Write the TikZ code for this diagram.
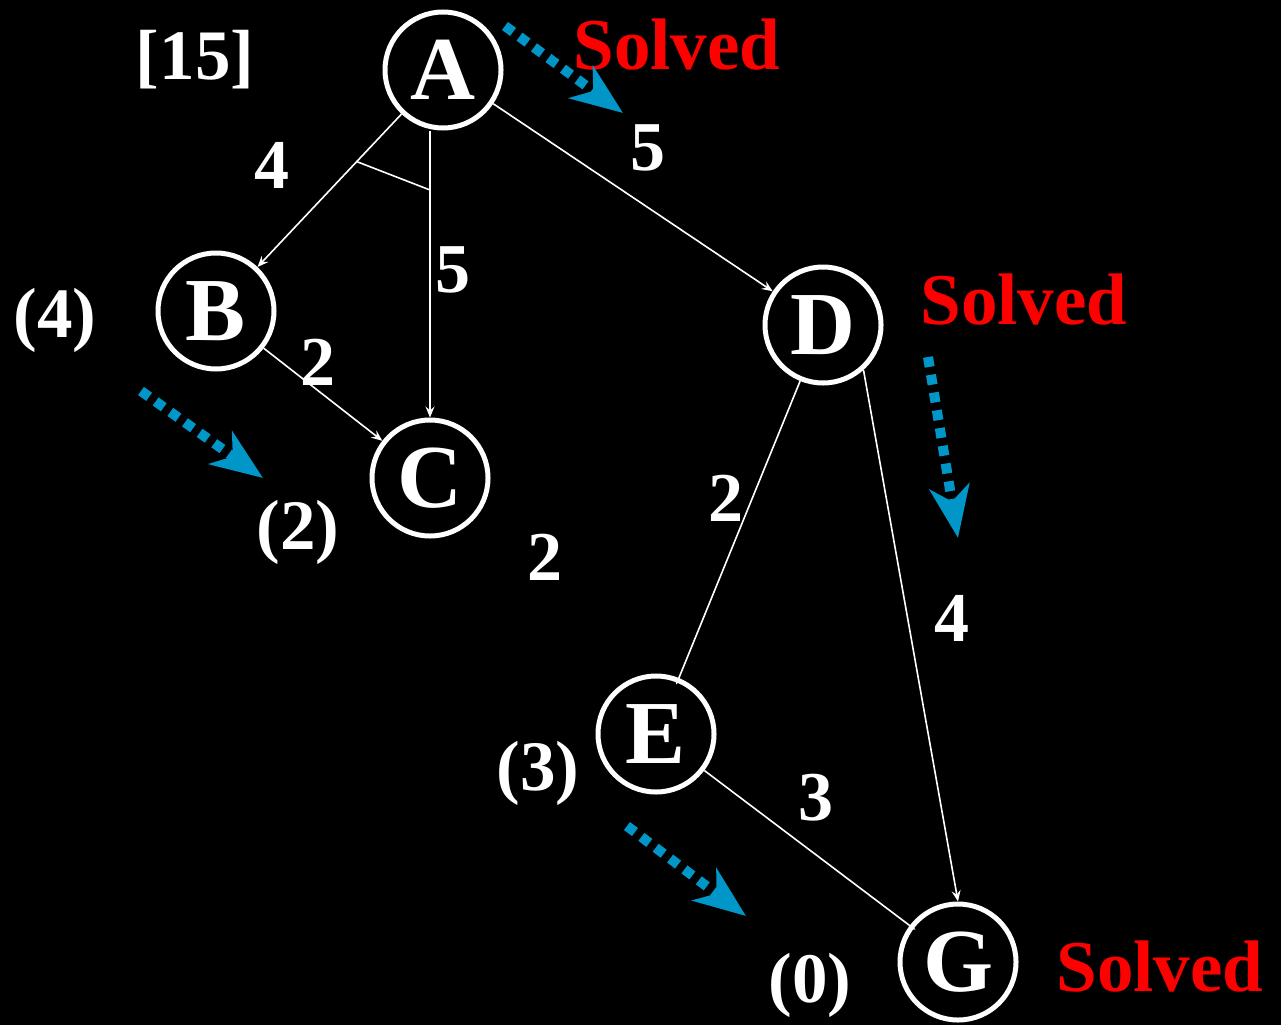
\documentclass[tikz,border=0pt]{standalone}
\usepackage{fontspec}
\setmainfont{Liberation Serif}
\usetikzlibrary{arrows.meta,calc}
\definecolor{hintblue}{RGB}{0,150,200}
\definecolor{solvedred}{RGB}{255,0,0}
\begin{document}
\begin{tikzpicture}[x=1pt,y=-1pt,
  state/.style={circle,draw=white,line width=5pt,minimum size=116pt,inner sep=0pt,text=white,font=\fontsize{90}{92}\selectfont\bfseries},
  edge/.style={draw=white,line width=1.6pt,-{Stealth[length=11pt,width=9pt,inset=4pt]}},
  hiddentip/.style={-{Stealth[length=6pt,width=5pt,inset=2pt]},shorten >=-7pt},
  andarc/.style={draw=white,line width=1.6pt},
  weight/.style={text=white,font=\fontsize{70}{72}\selectfont\bfseries,inner sep=0pt},
  heur/.style={text=white,font=\fontsize{71}{73}\selectfont\bfseries,inner sep=0pt},
  solvedlbl/.style={text=solvedred,font=\fontsize{73}{75}\selectfont\bfseries,inner sep=0pt},
  hint/.style={draw=hintblue,line width=10pt,dash pattern=on 10pt off 8pt,
    -{Stealth[length=52pt,width=40pt,inset=15pt,fill=hintblue]}}
]
\useasboundingbox[fill=black] (0,0) rectangle (1281,1025);

% nodes
\node[state] (A) at (443,70) {A};
\node[state] (B) at (216,311) {B};
\node[state] (C) at (430,478) {C};
\node[state] (D) at (823,325) {D};
\node[state] (E) at (656,734) {E};
\node[state] (G) at (958,962) {G};

% edges
\draw[edge] (A) -- (B);
\draw[edge] (C |- A.south) -- (C);
\draw[edge] (A) -- (D);
\draw[edge] (B) -- (C);
\draw[edge,hiddentip] (D) -- (E);
\draw[edge] (D.-48) -- (G.north);
\draw[edge,hiddentip] (E) -- (G);

% AND arc
\coordinate (k1) at ($(A)!0.38!(B)$);
\coordinate (k2) at ($(C)+(0,-288)$);
\draw[andarc] (k1) -- (k2);

% weights
\node[weight] (w1) at (272,165) {4};
\node[weight] (w2) at (648,148) {5};
\node[weight] (w3) at (453,270) {5};
\node[weight] (w4) at (318,362) {2};
\node[weight] (w5) at (726,498) {2};
\node[weight] (w6) at (545,557) {2};
\node[weight] (w7) at (952,618) {4};
\node[weight] (w8) at (816,798) {3};

% heuristics
\node[heur] (h0) at (195,60) {[15]};
\node[heur] (h1) at (55,320) {(4)};
\node[heur] (h2) at (298,532) {(2)};
\node[heur] (h3) at (538,773) {(3)};
\node[heur] (h4) at (810,985) {(0)};

% solved labels
\node[solvedlbl] (s1) at (677,45) {Solved};
\node[solvedlbl] (s2) at (1024,300) {Solved};
\node[solvedlbl] (s3) at (1160,967) {Solved};

% blue hint arrows
\coordinate (b1s) at (505,26);
\coordinate (b1e) at (623,113);
\coordinate (b2s) at (141,391);
\coordinate (b2e) at (263,478);
\coordinate (b3s) at (928,357);
\coordinate (b3e) at (958,538);
\coordinate (b4s) at (627,826);
\coordinate (b4e) at (746,916);
\draw[hint] (b1s) -- (b1e);
\draw[hint] (b2s) -- (b2e);
\draw[hint] (b3s) -- (b3e);
\draw[hint] (b4s) -- (b4e);
\end{tikzpicture}
\end{document}
